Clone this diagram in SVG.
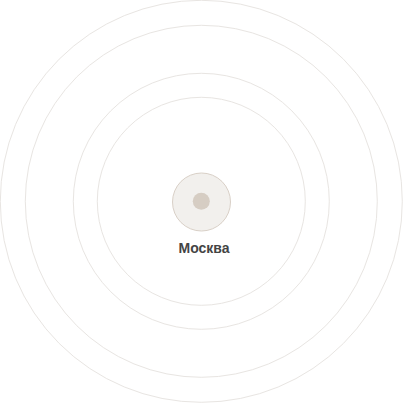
<svg xmlns="http://www.w3.org/2000/svg" width="404" height="404" viewBox="0 0 404 404">
<style>
.ring{fill:none;stroke:#e8e5e2;stroke-width:1}
.lbl{font-family:"Liberation Sans",Arial,sans-serif;font-size:14px;font-weight:bold;fill:#444444;text-anchor:middle}
</style>
<rect width="404" height="404" fill="#ffffff"/>
<g id="rings">
<circle class="ring" cx="201.3" cy="201.3" r="201"/>
<circle class="ring" cx="201.3" cy="201.3" r="176"/>
<circle class="ring" cx="201.3" cy="201.3" r="128"/>
<circle class="ring" cx="201.3" cy="201.3" r="104"/>
</g>
<g id="moscow">
<circle cx="201.5" cy="202" r="29" fill="#f2f0ed" stroke="#d9d0c7" stroke-width="1"/>
<circle cx="201.3" cy="201.3" r="8.5" fill="#d6cdc3"/>
<text class="lbl" x="204" y="252.5">Москва</text>
</g>
</svg>
